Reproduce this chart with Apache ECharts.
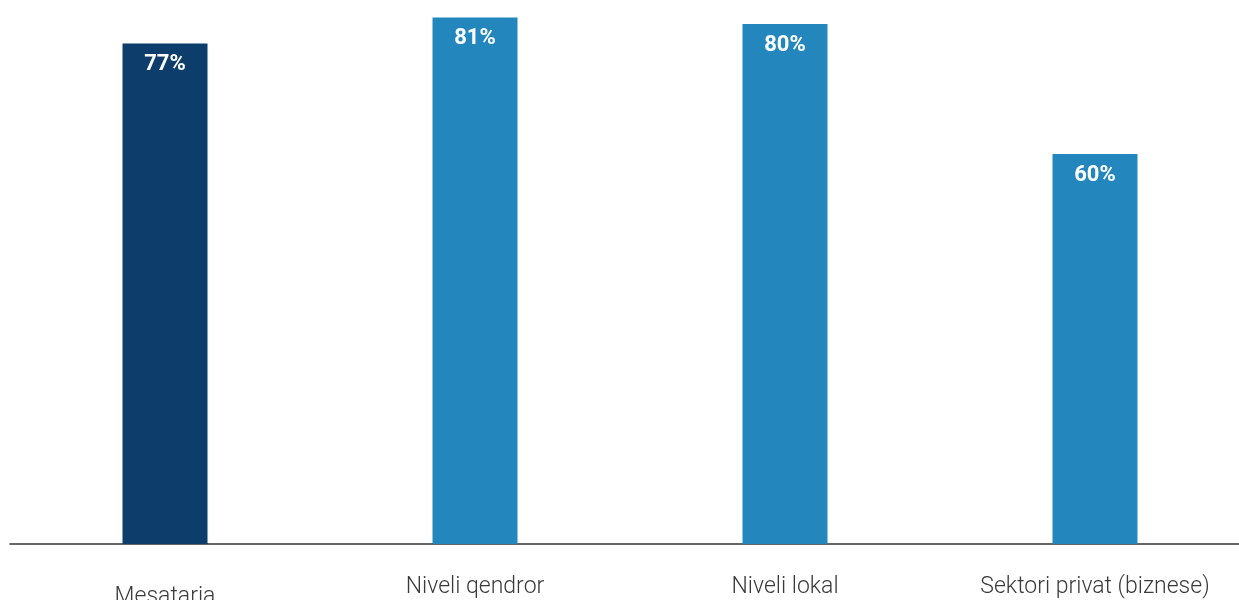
<!DOCTYPE html>
<html>
<head>
<meta charset="utf-8">
<script src="https://cdn.jsdelivr.net/npm/echarts@6/dist/echarts.min.js"></script>
<style>
  html, body { margin: 0; padding: 0; background: #ffffff; }
  #chart { width: 1239px; height: 600px; }
</style>
</head>
<body>
<div id="chart"></div>
<script>
// Categories and shares (percent)
const categories = ['Mesataria', 'Niveli qendror', 'Niveli lokal', 'Sektori privat (biznese)'];
const values = [77, 81, 80, 60];
const barColors = ['#0d3d6b', '#2387bd', '#2387bd', '#2387bd'];

const chart = echarts.init(document.getElementById('chart'));

chart.setOption({
  animation: false,
  grid: { left: 10, width: 1240, top: 11, bottom: 56, containLabel: false, outerBoundsMode: 'none' },
  xAxis: {
    type: 'category',
    data: categories,
    axisLine: { show: true, lineStyle: { color: '#333333', width: 1.5 } },
    axisTick: { show: false },
    axisLabel: {
      margin: 32,
      fontFamily: 'Roboto',
      fontWeight: 300,
      fontSize: 23,
      color: '#3a3a3a',
      formatter: function (v, i) {
        return i === 0 ? '{low|' + v + '}' : v;
      },
      rich: {
        low: { fontFamily: 'Roboto', fontWeight: 300, fontSize: 23, color: '#3a3a3a', padding: [10, 0, 0, 0] }
      }
    }
  },
  yAxis: {
    type: 'value',
    min: 0,
    max: 82,
    show: false,
    splitLine: { show: false }
  },
  series: [{
    type: 'bar',
    barWidth: 85,
    data: values.map((v, i) => ({ value: v, itemStyle: { color: barColors[i] } })),
    label: {
      show: true,
      position: 'insideTop',
      distance: 10,
      formatter: '{c}%',
      color: '#ffffff',
      fontFamily: 'Roboto',
      fontWeight: 'bold',
      fontSize: 22
    }
  }]
});
</script>
</body>
</html>
